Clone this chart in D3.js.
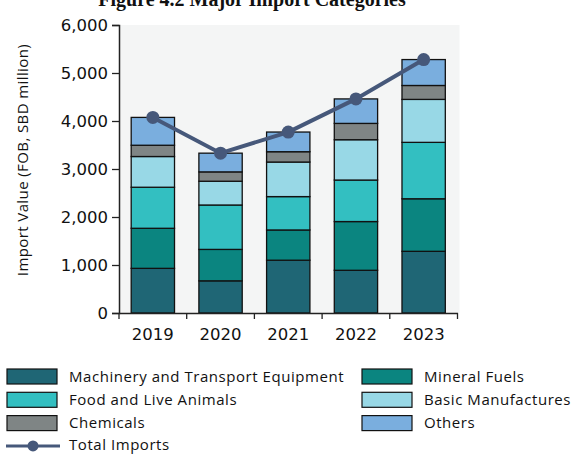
<!DOCTYPE html>
<html>
<head>
<meta charset="utf-8">
<script src="https://cdn.jsdelivr.net/npm/d3@7"></script>
<style>
  html, body { margin: 0; padding: 0; background: #ffffff; }
  svg { display: block; }
</style>
</head>
<body>
<svg id="chart" width="571" height="454"></svg>
<script>
// Import values by category, FOB, SBD million
const years = ["2019", "2020", "2021", "2022", "2023"];
const machinery = [930, 670, 1100, 890, 1285];
const mineralFuels = [835, 655, 630, 1015, 1095];
const food = [855, 925, 695, 865, 1175];
const basicManufactures = [640, 495, 720, 840, 895];
const chemicals = [235, 195, 215, 340, 290];
const others = [580, 390, 410, 510, 540];
const totalImports = [4075, 3330, 3770, 4460, 5280];
const yTicks = [0, 1000, 2000, 3000, 4000, 5000, 6000];

const seriesNames = ["Machinery and Transport Equipment", "Mineral Fuels", "Food and Live Animals",
  "Basic Manufactures", "Chemicals", "Others"];
const seriesValues = [machinery, mineralFuels, food, basicManufactures, chemicals, others];
const seriesColors = ["#1f6675", "#0b8580", "#33bfc1", "#98d8e6", "#7f8585", "#7aaede"];

const rows = years.map((yr, i) => {
  const r = { year: yr };
  seriesNames.forEach((n, k) => { r[n] = seriesValues[k][i]; });
  return r;
});
const stacked = d3.stack().keys(seriesNames)(rows);

const svg = d3.select("#chart");
const plotLeft = 119, plotRight = 457.5, plotTop = 25, plotBottom = 313;

const x = d3.scaleBand().domain(years).range([plotLeft, plotRight]).padding(0);
const y = d3.scaleLinear().domain([0, 6000]).range([plotBottom, plotTop]);
const barW = x.bandwidth() * 0.64;

const sansFont = "'Open Sans', sans-serif";

// plot background
svg.append("rect")
  .attr("x", plotLeft).attr("y", plotTop)
  .attr("width", plotRight - plotLeft + 2).attr("height", plotBottom - plotTop)
  .attr("fill", "#f4f5f5");

// title
svg.append("text")
  .attr("x", 252).attr("y", 5.5)
  .attr("text-anchor", "middle")
  .attr("font-family", "'Liberation Serif', 'DejaVu Serif', serif")
  .attr("font-weight", "bold")
  .attr("font-size", 20)
  .attr("fill", "#111")
  .text("Figure 4.2 Major Import Categories");

// stacked bars
svg.append("g").selectAll("g")
  .data(stacked)
  .join("g")
  .attr("fill", (d, i) => seriesColors[i])
  .selectAll("rect")
  .data(d => d)
  .join("rect")
  .attr("x", d => x(d.data.year) + (x.bandwidth() - barW) / 2)
  .attr("y", d => y(d[1]))
  .attr("width", barW)
  .attr("height", d => y(d[0]) - y(d[1]))
  .attr("stroke", "#111")
  .attr("stroke-width", 1.3);

// axes
const yAxis = d3.axisLeft(y).tickValues(yTicks).tickFormat(d3.format(",")).tickSize(7).tickPadding(4);
const gy = svg.append("g").attr("transform", `translate(${plotLeft},0)`).call(yAxis);
gy.select(".domain").attr("stroke", "#222").attr("stroke-width", 1.5);
gy.selectAll(".tick line").attr("stroke", "#222").attr("stroke-width", 1.3);
gy.selectAll(".tick text")
  .attr("font-family", "'DejaVu Sans', Verdana, sans-serif")
  .attr("font-size", 16.5)
  .attr("fill", "#111");

const xAxis = d3.axisBottom(x).tickSize(0).tickPadding(15);
const gx = svg.append("g").attr("transform", `translate(0,${plotBottom})`).call(xAxis);
gx.select(".domain").attr("stroke", "#222").attr("stroke-width", 1.5);
gx.selectAll(".tick text")
  .attr("font-family", "'DejaVu Sans', Verdana, sans-serif")
  .attr("font-size", 16.5)
  .attr("fill", "#111");
// tick marks at category boundaries
gx.append("g").selectAll("line")
  .data(years.map(d => x(d)).concat([x(years[years.length - 1]) + x.bandwidth()]))
  .join("line")
  .attr("x1", d => d).attr("x2", d => d)
  .attr("y1", 0).attr("y2", 6)
  .attr("stroke", "#222").attr("stroke-width", 1.3);

// y axis title
svg.append("text")
  .attr("transform", `translate(28,160) rotate(-90)`)
  .attr("text-anchor", "middle")
  .attr("font-family", sansFont)
  .attr("font-size", 15)
  .attr("letter-spacing", 0.4)
  .attr("fill", "#111")
  .text("Import Value (FOB, SBD million)");

// total imports line
const lineColor = "#46587a";
const line = d3.line()
  .x((d, i) => x(years[i]) + x.bandwidth() / 2)
  .y(d => y(d));
svg.append("path")
  .datum(totalImports)
  .attr("d", line)
  .attr("fill", "none")
  .attr("stroke", lineColor)
  .attr("stroke-width", 4);
svg.append("g").selectAll("circle")
  .data(totalImports)
  .join("circle")
  .attr("cx", (d, i) => x(years[i]) + x.bandwidth() / 2)
  .attr("cy", d => y(d))
  .attr("r", 6.5)
  .attr("fill", lineColor);

// legend
const legendItems = [
  { name: seriesNames[0], color: seriesColors[0], col: 0, row: 0 },
  { name: seriesNames[1], color: seriesColors[1], col: 1, row: 0 },
  { name: seriesNames[2], color: seriesColors[2], col: 0, row: 1 },
  { name: seriesNames[3], color: seriesColors[3], col: 1, row: 1 },
  { name: seriesNames[4], color: seriesColors[4], col: 0, row: 2 },
  { name: seriesNames[5], color: seriesColors[5], col: 1, row: 2 }
];
const colX = [7, 362];
const rowY0 = 376.5, rowStep = 23.3;
const legend = svg.append("g");
legendItems.forEach(it => {
  const lx = colX[it.col], ly = rowY0 + it.row * rowStep;
  legend.append("rect")
    .attr("x", lx).attr("y", ly - 7.5)
    .attr("width", 50).attr("height", 15)
    .attr("fill", it.color)
    .attr("stroke", "#111").attr("stroke-width", 1.2);
  legend.append("text")
    .attr("x", lx + 62).attr("y", ly)
    .attr("dy", "0.35em")
    .attr("font-family", sansFont)
    .attr("font-size", 15)
    .attr("letter-spacing", 0.55)
    .attr("fill", "#111")
    .text(it.name);
});
const ty = rowY0 + 3 * rowStep - 0.5;
legend.append("line")
  .attr("x1", 6).attr("x2", 60).attr("y1", ty).attr("y2", ty)
  .attr("stroke", lineColor).attr("stroke-width", 3);
legend.append("circle")
  .attr("cx", 33).attr("cy", ty).attr("r", 5.5).attr("fill", lineColor);
legend.append("text")
  .attr("x", 69).attr("y", ty).attr("dy", "0.3em")
  .attr("font-family", sansFont)
  .attr("font-size", 15)
  .attr("letter-spacing", 0.55)
  .attr("fill", "#111")
  .text("Total Imports");
</script>
</body>
</html>
